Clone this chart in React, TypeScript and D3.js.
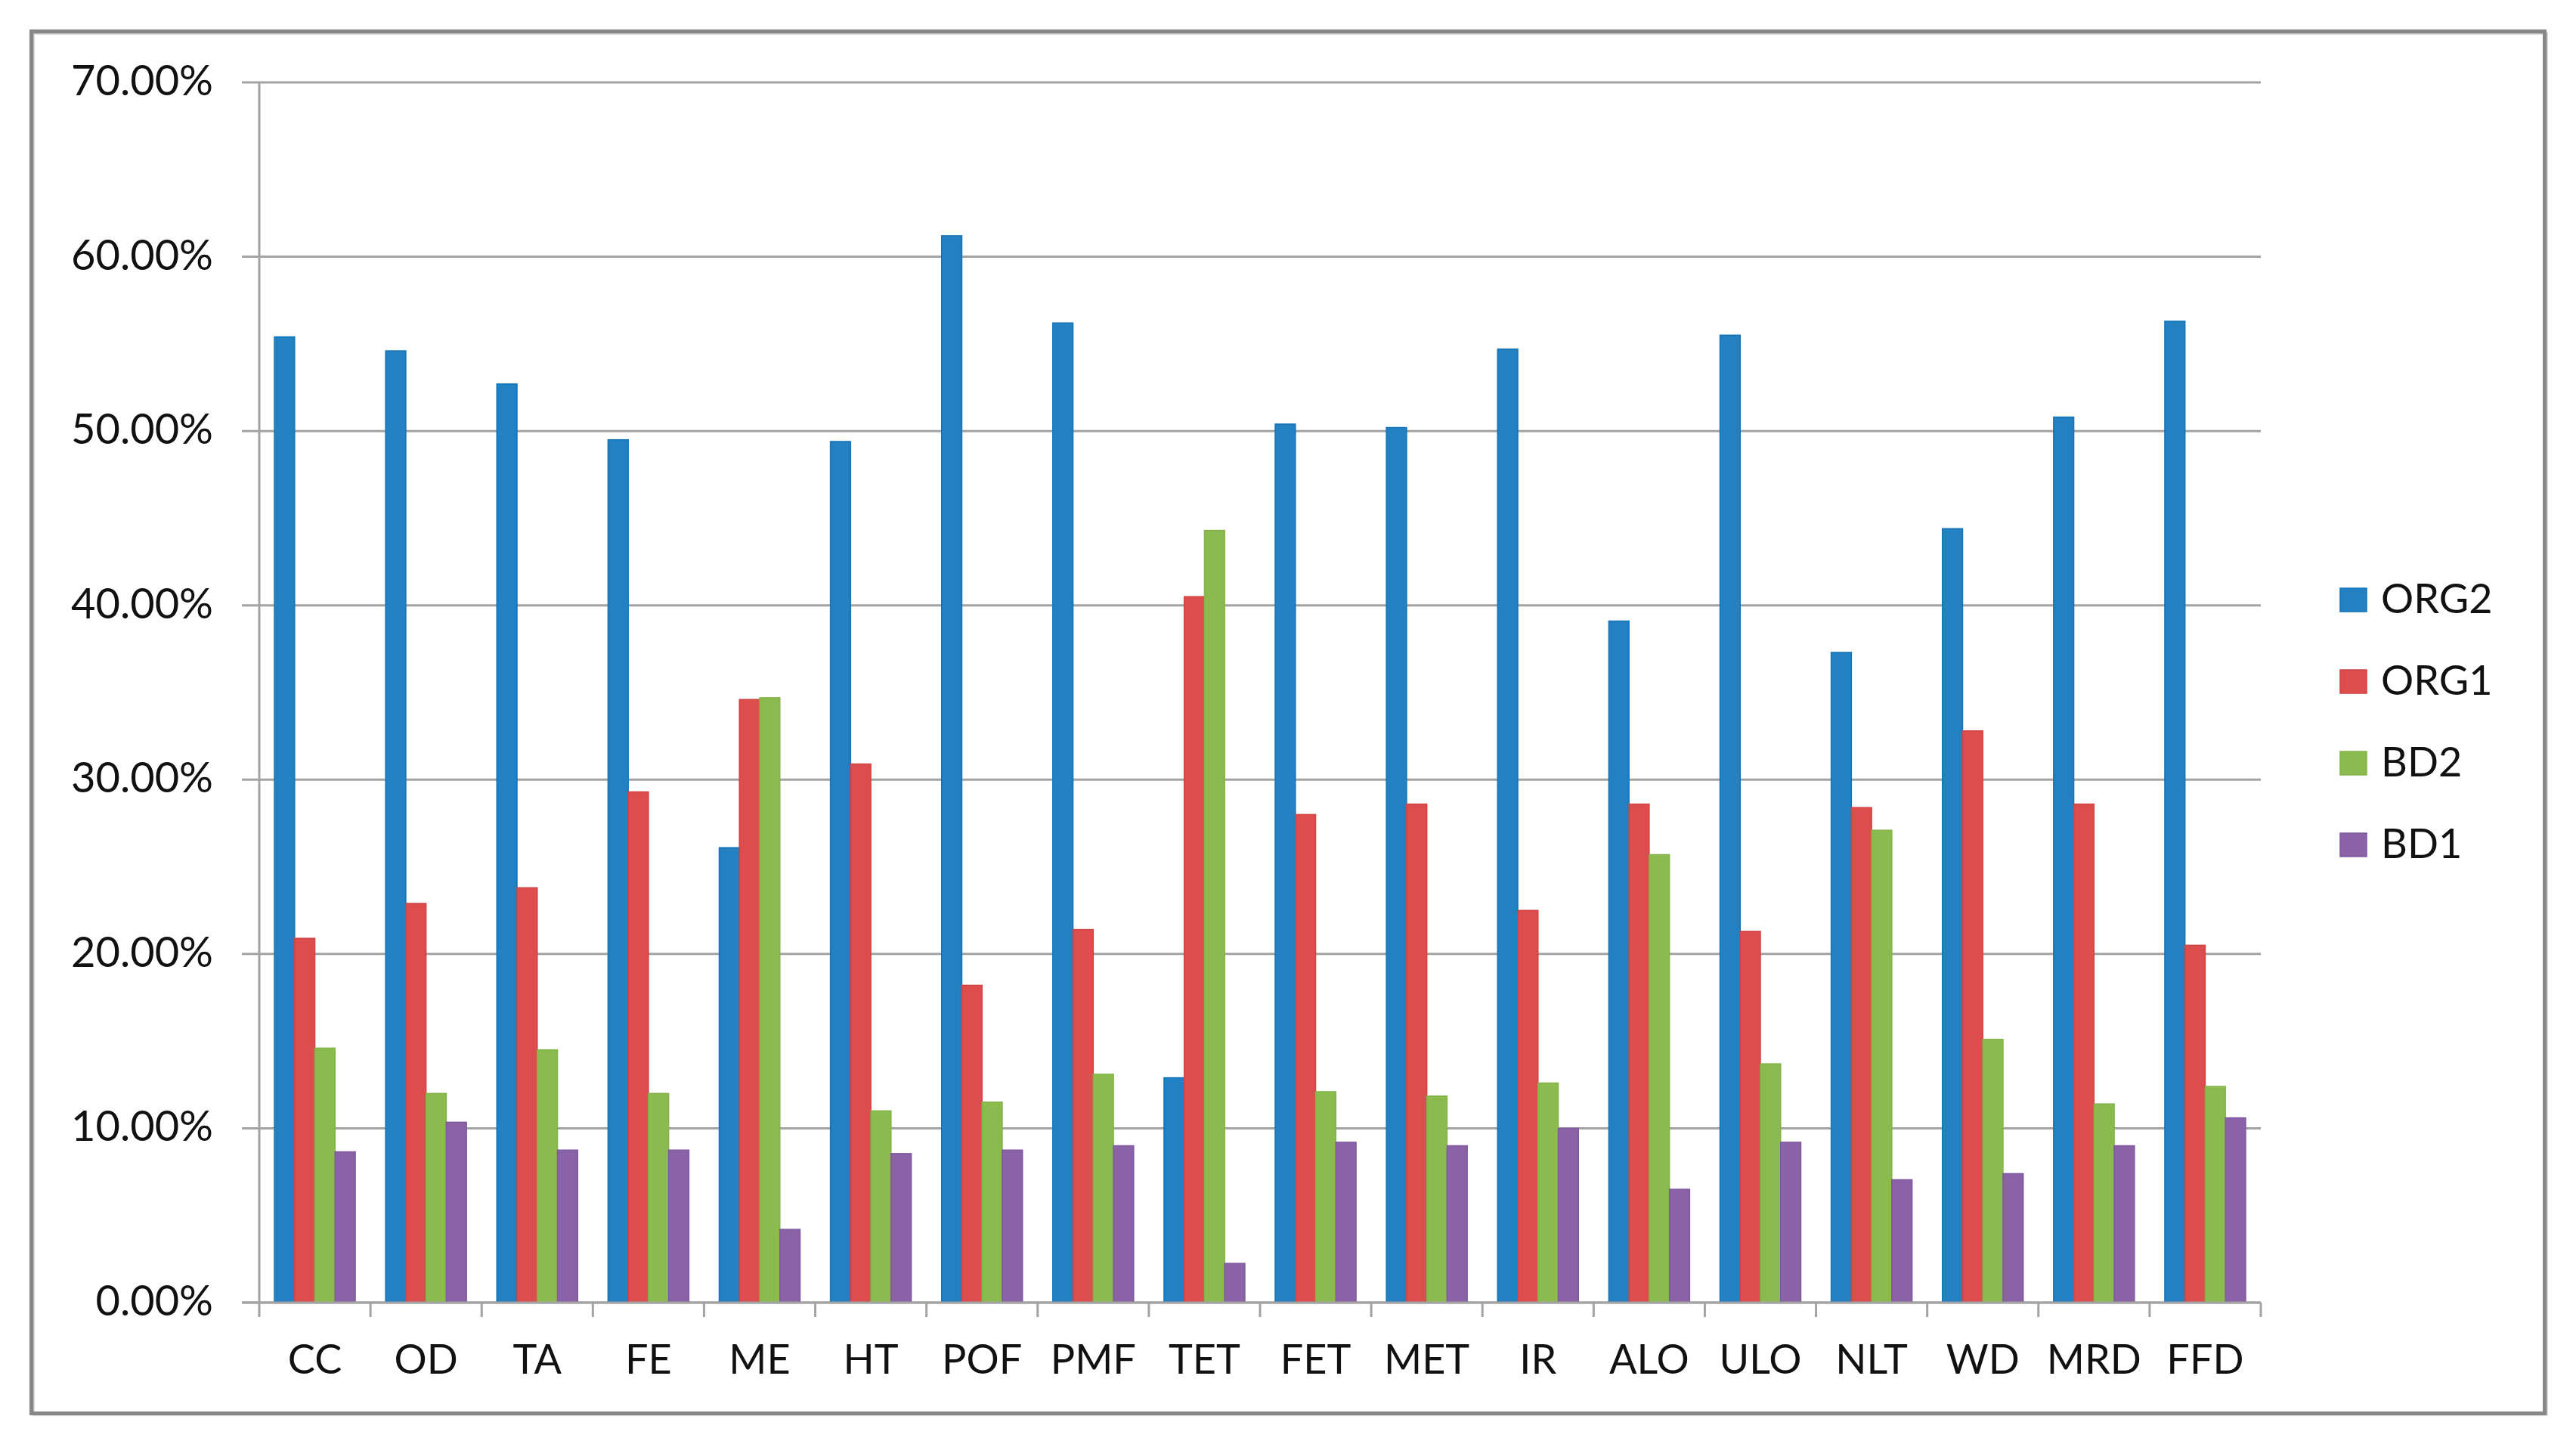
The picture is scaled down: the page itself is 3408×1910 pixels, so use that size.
import React from "react";
import * as d3 from "d3";

const categories = ["CC", "OD", "TA", "FE", "ME", "HT", "POF", "PMF", "TET", "FET", "MET", "IR", "ALO", "ULO", "NLT", "WD", "MRD", "FFD"];
const seriesNames = ["ORG2", "ORG1", "BD2", "BD1"];
const org2 = [55.4, 54.6, 52.7, 49.5, 26.1, 49.4, 61.2, 56.2, 12.9, 50.4, 50.2, 54.7, 39.1, 55.5, 37.3, 44.4, 50.8, 56.3];
const org1 = [20.9, 22.9, 23.8, 29.3, 34.6, 30.9, 18.2, 21.4, 40.5, 28.0, 28.6, 22.5, 28.6, 21.3, 28.4, 32.8, 28.6, 20.5];
const bd2 = [14.6, 12.0, 14.5, 12.0, 34.7, 11.0, 11.5, 13.1, 44.3, 12.1, 11.85, 12.6, 25.7, 13.7, 27.1, 15.1, 11.4, 12.4];
const bd1 = [8.65, 10.35, 8.75, 8.75, 4.2, 8.55, 8.75, 9.0, 2.25, 9.2, 9.0, 10.0, 6.5, 9.2, 7.05, 7.4, 9.0, 10.6];
const yTicks = [0, 10, 20, 30, 40, 50, 60, 70];
const colors = ["#2381C2", "#DD4D4D", "#8BBB4F", "#8A63A7"];
const edge = ["#1474B8", "#D24343", "#82B447", "#7F58A0"];

const seriesValues = [org2, org1, bd2, bd1];

const W = 3408;
const H = 1910;
const FONT = "Lato, 'Open Sans', sans-serif";

export default function App() {
  const x = d3.scaleBand<string>().domain(categories).range([343, 2991]).paddingInner(0).paddingOuter(0);
  const y = d3.scaleLinear().domain([0, 70]).range([1723, 109]);
  const bw = x.bandwidth();
  const w = bw / 5.5;
  const inner = d3.scaleBand<string>().domain(seriesNames).range([0.75 * w, 4.75 * w]).padding(0);
  const grid = "#A3A3A3";

  const boundaries = d3.range(categories.length + 1).map((i) => 343 + i * bw);

  return (
    <svg width={W} height={H} style={{ position: "absolute", left: 0, top: 0, background: "#fff" }}>
      <rect x={0} y={0} width={W} height={H} fill="#fff" />
      {/* outer frame */}
      <rect x={44} y={44} width={3325} height={1827} fill="none" stroke="#BDBDBD" strokeWidth={3} />
      <rect x={41.5} y={41.5} width={3325} height={1828} fill="none" stroke="#878787" strokeWidth={5} />

      {/* gridlines */}
      {yTicks.map((t) => (
        <line key={"g" + t} x1={320} x2={2991} y1={y(t)} y2={y(t)} stroke={grid} strokeWidth={3} />
      ))}
      {/* y axis */}
      <line x1={343} x2={343} y1={y(70)} y2={y(0)} stroke={grid} strokeWidth={3} />
      {/* x ticks */}
      {boundaries.map((bx, i) => (
        <line key={"t" + i} x1={bx} x2={bx} y1={y(0)} y2={1742} stroke={grid} strokeWidth={3} />
      ))}

      {/* bars */}
      {categories.map((c, ci) => (
        <g key={c} transform={`translate(${x(c)},0)`}>
          {seriesNames.map((s, si) => {
            const v = seriesValues[si][ci];
            const top = y(v);
            return (
              <rect
                key={s}
                x={inner(s)}
                y={top}
                width={inner.bandwidth()}
                height={y(0) - top}
                fill={colors[si]}
                stroke={edge[si]}
                strokeWidth={1.5}
              />
            );
          })}
        </g>
      ))}
      {/* x axis line over bars */}
      <line x1={320} x2={2991} y1={y(0)} y2={y(0)} stroke={grid} strokeWidth={3} />

      {/* y tick labels */}
      {yTicks.map((t) => (
        <text key={"l" + t} x={282} y={y(t) + 17} textAnchor="end" fontFamily={FONT} fontSize={56} fill="#111">
          {t.toFixed(2) + "%"}
        </text>
      ))}

      {/* category labels */}
      {categories.map((c) => (
        <text key={"c" + c} x={(x(c) as number) + bw / 2} y={1817} textAnchor="middle" fontFamily={FONT} fontSize={54} fill="#111">
          {c}
        </text>
      ))}

      {/* legend */}
      {seriesNames.map((s, i) => {
        const cy = 793 + i * 108;
        return (
          <g key={"lg" + s}>
            <rect x={3096} y={cy - 15} width={35} height={31} fill={colors[i]} stroke={edge[i]} strokeWidth={1.5} />
            <text x={3150} y={cy + 18} fontFamily={FONT} fontSize={54} fill="#111">
              {s}
            </text>
          </g>
        );
      })}
    </svg>
  );
}
